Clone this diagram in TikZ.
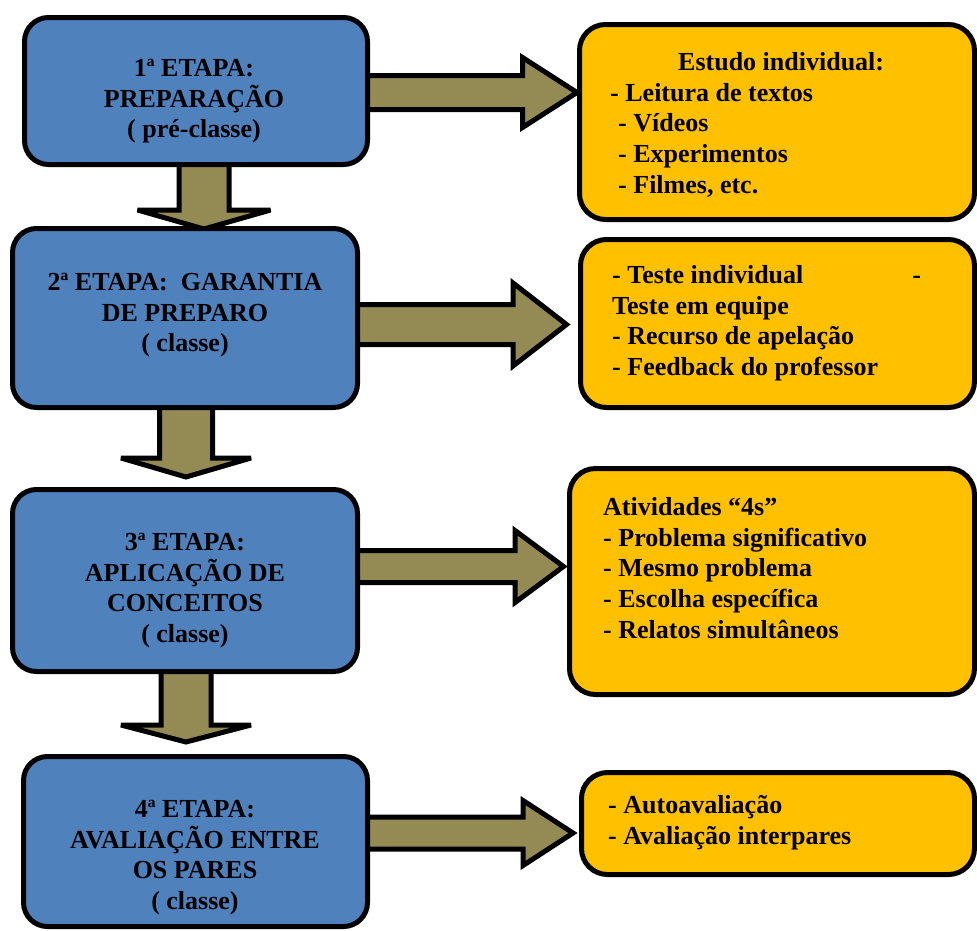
\documentclass[tikz,border=0pt]{standalone}
\usepackage{fontspec}
\setmainfont{Liberation Serif}
\usetikzlibrary{calc}
\pgfdeclarelayer{background}
\pgfsetlayers{background,main}

\definecolor{stageblue}{RGB}{79,129,189}
\definecolor{notegold}{RGB}{255,192,0}
\definecolor{arrowolive}{RGB}{148,138,84}

\newcommand\bigtext{\fontsize{26}{30.8}\selectfont\bfseries}
\newcommand\firstline{\rule{0pt}{22pt}}

\tikzset{
  stagebox/.style={draw=black, line width=5pt, fill=stageblue, rounded corners=24pt, inner sep=0pt},
  notebox/.style={draw=black, line width=5pt, fill=notegold, rounded corners=26pt, inner sep=0pt},
  stagetext/.style={anchor=north, align=center, inner sep=0pt, font=\bigtext},
  notetext/.style={anchor=north west, align=left, inner sep=0pt, font=\bigtext},
  blockarrow/.style={draw=black, line width=5pt, fill=arrowolive, line join=miter, miter limit=4},
}

% block arrow pointing right: from, to, centre y, shaft half-width, head half-width, head length, gap before target
\newcommand\sidearrow[7]{%
  \path[blockarrow] let \p1=(#1.east), \p2=(#2.west) in
    ({\x1-10pt},{-(#3-#4)*1pt}) -- ({\x2-(#7+#6)*1pt},{-(#3-#4)*1pt})
    -- ({\x2-(#7+#6)*1pt},{-(#3-#5)*1pt}) -- ({\x2-(#7)*1pt},{-(#3)*1pt})
    -- ({\x2-(#7+#6)*1pt},{-(#3+#5)*1pt}) -- ({\x2-(#7+#6)*1pt},{-(#3+#4)*1pt})
    -- ({\x1-10pt},{-(#3+#4)*1pt}) -- cycle;}

% block arrow pointing down: from, to, centre x, shaft half-width, head half-width, head length, gap before target
\newcommand\downarrowshape[7]{%
  \path[blockarrow] let \p1=(#1.south), \p2=(#2.north) in
    ({(#3-#4)*1pt},{\y1+10pt}) -- ({(#3-#4)*1pt},{\y2+(#7+#6)*1pt})
    -- ({(#3-#5)*1pt},{\y2+(#7+#6)*1pt}) -- ({(#3)*1pt},{\y2+(#7)*1pt})
    -- ({(#3+#5)*1pt},{\y2+(#7+#6)*1pt}) -- ({(#3+#4)*1pt},{\y2+(#7+#6)*1pt})
    -- ({(#3+#4)*1pt},{\y1+10pt}) -- cycle;}

\begin{document}
\begin{tikzpicture}[x=1pt, y=-1pt]
\useasboundingbox (0,0) rectangle (977,930);

% stages
\node[stagebox, minimum width=343pt, minimum height=147pt] (s1) at (196,91) {};
\node[stagebox, minimum width=345pt, minimum height=179pt] (s2) at (185,318) {};
\node[stagebox, minimum width=345pt, minimum height=182pt] (s3) at (185,580.5) {};
\node[stagebox, minimum width=344pt, minimum height=170pt] (s4) at (195.5,841.5) {};

% activities
\node[notebox, minimum width=395pt, minimum height=195pt] (na) at (777,122) {};
\node[notebox, minimum width=394pt, minimum height=168pt] (nb) at (777.5,323.5) {};
\node[notebox, minimum width=405pt, minimum height=226pt] (nc) at (772,581.5) {};
\node[notebox, minimum width=393pt, minimum height=102pt] (nd) at (778,823.5) {};

% stage labels
\node[stagetext] (t1) at (194,54) {\firstline 1ª ETAPA:\\PREPARAÇÃO\\( pré-classe)};
\node[stagetext] (t2) at (185,268) {\firstline 2ª ETAPA:\ \ GARANTIA\\DE PREPARO\\( classe)};
\node[stagetext] (t3) at (185,528) {\firstline 3ª ETAPA:\\APLICAÇÃO DE\\CONCEITOS\\( classe)};
\node[stagetext] (t4) at (195,795) {\firstline 4ª ETAPA:\\AVALIAÇÃO ENTRE\\OS PARES\\( classe)};

% activity labels
\node[notetext] (ta) at (610,48) {\firstline\hspace*{68pt}Estudo individual:\\- Leitura de textos\\\hspace*{8pt}- Vídeos\\\hspace*{8pt}- Experimentos\\\hspace*{8pt}- Filmes, etc.};
\node[notetext] (tb) at (612,261) {\firstline - Teste individual\hspace*{109pt}-\\Teste em equipe\\- Recurso de apelação\\- Feedback do professor};
\node[notetext] (tc) at (603,493) {\firstline Atividades “4s”\\- Problema significativo\\- Mesmo problema\\- Escolha específica\\- Relatos simultâneos};
\node[notetext] (td) at (608,791) {\firstline - Autoavaliação\\- Avaliação interpares};

% connectors
\begin{pgfonlayer}{background}
  \sidearrow{s1}{na}{92.5}{17}{35}{54.5}{0}
  \sidearrow{s2}{nb}{324.5}{20}{41.5}{53.5}{11.5}
  \sidearrow{s3}{nc}{566.5}{16}{36}{48.5}{3.5}
  \sidearrow{s4}{nd}{833}{16}{32.5}{50}{6}
  \downarrowshape{s1}{s2}{204}{25}{66.5}{19}{-3}
  \downarrowshape{s2}{s3}{186}{26.5}{65}{19}{10}
  \downarrowshape{s3}{s4}{186}{25}{65}{17}{12}
\end{pgfonlayer}
\end{tikzpicture}
\end{document}
